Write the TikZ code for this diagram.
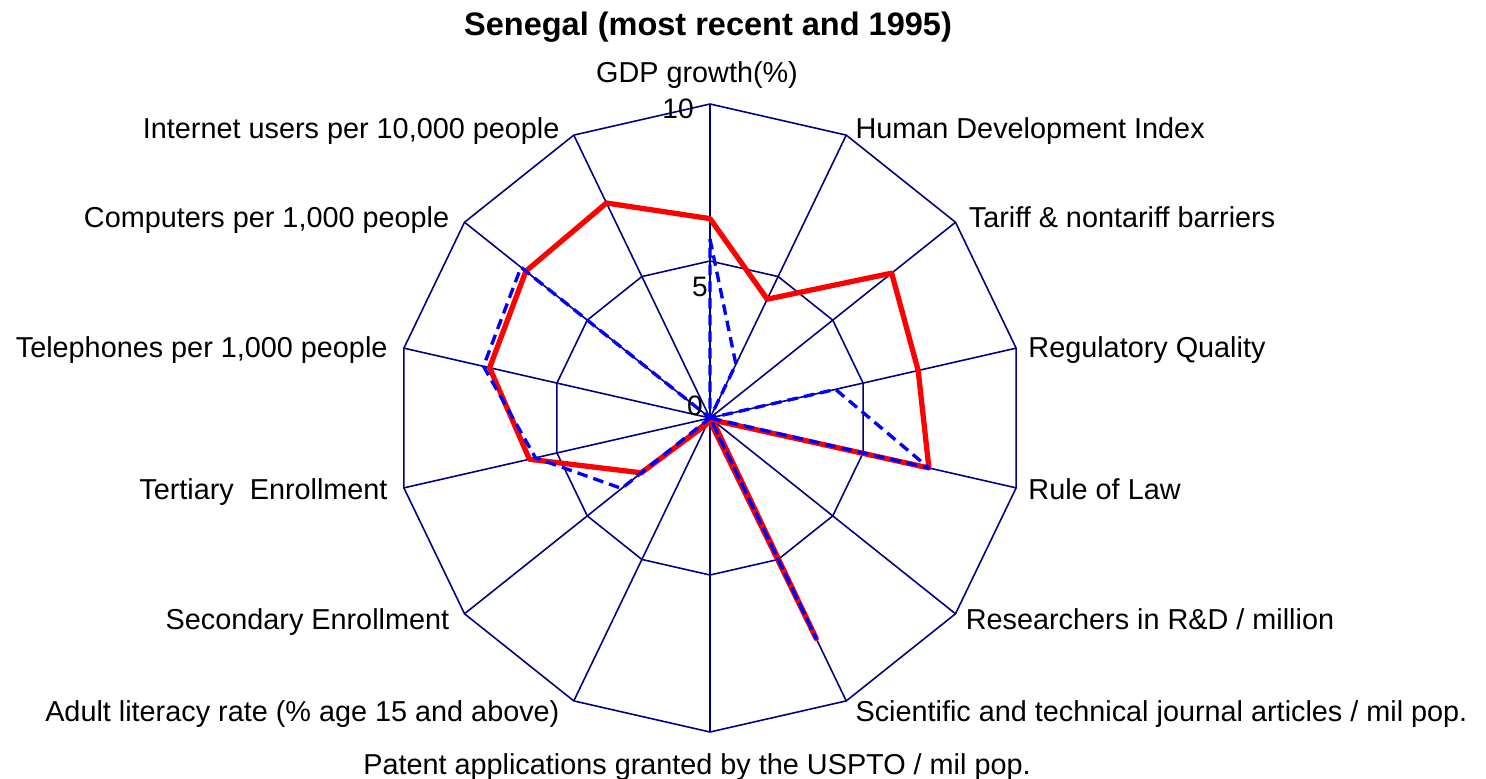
\documentclass[tikz,border=0pt]{standalone}
\usepackage{fontspec}
\setmainfont{Liberation Sans}
\usetikzlibrary{positioning}
\definecolor{chartnavy}{RGB}{0,0,128}

\begin{document}
\begin{tikzpicture} [x=0.02cm, y=-0.02cm, node distance=0.2cm,
        gridline/.style={draw=chartnavy, line width=0.9pt},
        recent/.style={draw=red, line width=3pt, line join=round},
        old/.style={draw=blue, line width=1.9pt, line join=round, dash pattern=on 6pt off 3.5pt},
        lbl/.style={font=\fontsize{16.4}{19}\selectfont, inner sep=0pt, text height=0.72em, text depth=0.2em},
        tick/.style={font=\fontsize{16}{19}\selectfont, inner sep=0pt}]
    \useasboundingbox (0,0) rectangle (1486,778);

    \node (title) [font=\bfseries\fontsize{18.5}{22}\selectfont] at (708,27) {Senegal (most recent and 1995)};

    \begin{scope}[shift={(710,418)}]
        % spokes and rings
        \foreach \k in {0,...,13} {
            \coordinate (v\k) at ({-90+\k*360/14}:314);
            \coordinate (h\k) at ({-90+\k*360/14}:157);
        }
        \coordinate (c) at (0,0);
        \foreach \k in {0,...,13} \draw [gridline] (c) -- (v\k);
        \draw [gridline] (v0) \foreach \k in {1,...,13} {-- (v\k)} -- cycle;
        \draw [gridline] (h0) \foreach \k in {1,...,13} {-- (h\k)} -- cycle;

        % most recent
        \foreach \v [count=\k from 0] in {6.35,4.2,7.4,6.8,7.15,0.1,7.8,0.1,0.2,2.8,5.9,7.2,7.5,7.6}
            \coordinate (r\k) at ({-90+\k*360/14}:{\v*31.4});
        % 1995
        \foreach \v [count=\k from 0] in {5.7,1.9,0,4.1,7.15,0,7.8,0,0,3.6,5.7,7.4,7.7,0}
            \coordinate (b\k) at ({-90+\k*360/14}:{\v*31.4});

        \draw [recent] (r0) \foreach \k in {1,...,13} {-- (r\k)} -- cycle;
        \draw [old] (b0) \foreach \k in {1,...,13} {-- (b\k)} -- cycle;
    \end{scope}

    \node (t10) [tick] at (678,109) {10};
    \node (t5) [tick] at (700,287) {5};
    \node (t0) [tick] at (695,406) {0};

    \node (l0) [lbl, above=0.36cm of v0, xshift=-0.26cm] {GDP growth(\%)};
    \node (l1) [lbl, right=0.18cm of v1, yshift=0.02cm] {Human Development Index};
    \node (l2) [lbl, right=0.26cm of v2, yshift=-0.02cm] {Tariff \& nontariff barriers};
    \node (l3) [lbl, right=0.24cm of v3, yshift=-0.1cm] {Regulatory Quality};
    \node (l4) [lbl, right=0.24cm of v4, yshift=-0.14cm] {Rule of Law};
    \node (l5) [lbl, right=0.2cm of v5, yshift=-0.22cm] {Researchers in R\&D / million};
    \node (l6) [lbl, right=0.18cm of v6, yshift=-0.32cm] {Scientific and technical journal articles / mil pop.};
    \node (l7) [lbl, below=0.58cm of v7, xshift=-0.26cm] {Patent applications granted by the USPTO / mil pop.};
    \node (l8) [lbl, left=0.28cm of v8, yshift=-0.32cm] {Adult literacy rate (\% age 15 and above)};
    \node (l9) [lbl, left=0.3cm of v9, yshift=-0.22cm] {Secondary Enrollment};
    \node (l10) [lbl, left=0.32cm of v10, yshift=-0.14cm] {Tertiary\ \ Enrollment};
    \node (l11) [lbl, left=0.32cm of v11, yshift=-0.1cm] {Telephones per 1,000 people};
    \node (l12) [lbl, left=0.3cm of v12, yshift=-0.02cm] {Computers per 1,000 people};
    \node (l13) [lbl, left=0.28cm of v13, yshift=0.02cm] {Internet users per 10,000 people};
\end{tikzpicture}
\end{document}
